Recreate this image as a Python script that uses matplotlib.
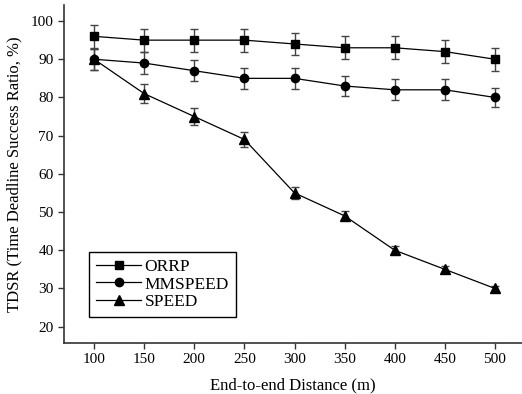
import matplotlib
matplotlib.use("Agg")
import matplotlib.pyplot as plt

plt.rcParams["font.family"] = ["Liberation Serif", "DejaVu Serif"]

distance = [100, 150, 200, 250, 300, 350, 400, 450, 500]
orrp = [96, 95, 95, 95, 94, 93, 93, 92, 90]
orrp_err = [3, 3, 3, 3, 3, 3, 3, 3, 3]
mmspeed = [90, 89, 87, 85, 85, 83, 82, 82, 80]
mmspeed_err = [2.8, 2.8, 2.8, 2.8, 2.8, 2.7, 2.7, 2.7, 2.6]
speed = [90, 81, 75, 69, 55, 49, 40, 35, 30]
speed_err = [2.8, 2.5, 2.3, 2.0, 1.5, 1.2, 1.0, 0.8, 0.6]

fig = plt.figure(figsize=(5.22, 3.94), dpi=100)
ax = fig.add_axes([64 / 522, 1 - 342.7 / 394, (522 - 64) / 522, (342.7 - 5) / 394])

series = [
    ("ORRP", orrp, orrp_err, "s", 5.5),
    ("MMSPEED", mmspeed, mmspeed_err, "o", 6),
    ("SPEED", speed, speed_err, "^", 6.5),
]
for name, vals, err, mk, ms in series:
    ax.errorbar(distance, vals, yerr=err, color="black", ecolor="#444444",
                elinewidth=1.0, capsize=3, capthick=1.0, lw=0.9,
                marker=mk, markersize=ms, label=name)

ax.set_xlim(70, 527)
ax.set_ylim(15.8, 104.2)
ax.set_xticks(distance)
ax.set_yticks(range(20, 101, 10))
for s in ["top", "right"]:
    ax.spines[s].set_visible(False)
for s in ["left", "bottom"]:
    ax.spines[s].set_linewidth(1.2)
    ax.spines[s].set_color("#333333")
ax.tick_params(direction="out", length=4, width=1, labelsize=11, color="#333333")

ax.set_xlabel("End-to-end Distance (m)", fontsize=12, labelpad=8)
ax.set_ylabel("TDSR (Time Deadline Success Ratio, %)", fontsize=12, labelpad=6)

handles, labels = ax.get_legend_handles_labels()
handles = [h[0] for h in handles]
leg = ax.legend(handles, labels, loc="lower left", bbox_to_anchor=(0.055, 0.075),
                fontsize=12.5, fancybox=False, framealpha=1, edgecolor="black",
                handlelength=2.6, handletextpad=0.2, labelspacing=0.1,
                borderpad=0.4, borderaxespad=0)
leg.get_frame().set_linewidth(1.0)

fig.savefig("out.png", dpi=100)
